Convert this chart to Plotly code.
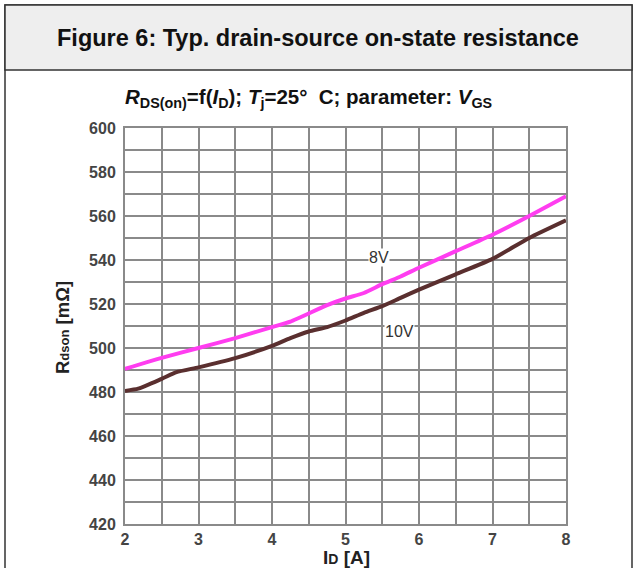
import plotly.graph_objects as go

# ---- data ----
id_8v = [2, 2.5, 3, 3.5, 4, 4.25, 4.75, 5.0, 5.25, 5.5, 5.75, 6, 6.5, 7, 7.5, 8]
r_8v = [490.5, 495.5, 500, 504.5, 509.5, 512, 519.5, 522.5, 525, 529, 532.5, 536.5, 544, 551.5, 560, 569]
id_10v = [2, 2.18, 2.5, 2.7, 3, 3.5, 4, 4.25, 4.5, 4.75, 5, 5.25, 5.5, 5.75, 6, 6.5, 7, 7.5, 8]
r_10v = [480.5, 481.5, 486, 489, 491.2, 495.4, 501, 504.5, 507.5, 509.5, 512.5, 516, 519, 522.8, 526.5, 533.5, 540.5, 550, 558]
x_ticks = [2, 3, 4, 5, 6, 7, 8]
y_ticks = [420, 440, 460, 480, 500, 520, 540, 560, 580, 600]
curve_labels = ["8V", "10V"]
label_pos = [(5.45, 541), (5.74, 507.5)]

W, H = 639, 568
L, R, T, B = 125, 566, 128, 524


def fx(px):
    return (px - L) / (R - L)


def fy(py):
    return (B - py) / (B - T)


FONT = "Liberation Sans, Arial, sans-serif"

fig = go.Figure()
fig.add_trace(go.Scatter(x=id_8v, y=r_8v, mode="lines",
                         line=dict(color="#FF3DF0", width=4, shape="spline", smoothing=0.5),
                         hoverinfo="skip", showlegend=False))
fig.add_trace(go.Scatter(x=id_10v, y=r_10v, mode="lines",
                         line=dict(color="#5A2F2F", width=4, shape="spline", smoothing=0.5),
                         hoverinfo="skip", showlegend=False))

shapes = [
    dict(type="rect", xref="paper", yref="paper", x0=fx(5), x1=fx(632), y0=fy(620), y1=fy(5),
         line=dict(color="#333333", width=1.5), fillcolor="rgba(0,0,0,0)", layer="below"),
    dict(type="rect", xref="paper", yref="paper", x0=fx(5), x1=fx(632), y0=fy(70), y1=fy(5),
         line=dict(color="#333333", width=1.5), fillcolor="#EEEEEE", layer="below"),
]

annotations = [
    dict(text="<b>Figure 6: Typ. drain-source on-state resistance</b>", xref="paper", yref="paper",
         x=fx(318), y=fy(38), showarrow=False, font=dict(family=FONT, size=23.5, color="#111111"),
         xanchor="center", yanchor="middle"),
    dict(text="<b><i>R</i><sub>DS(on)</sub>=f(<i>I</i><sub>D</sub>); <i>T</i><sub>j</sub>=25°  C; parameter: <i>V</i><sub>GS</sub></b>",
         xref="paper", yref="paper", x=fx(308), y=fy(98), showarrow=False,
         font=dict(family=FONT, size=20.5, color="#111111"), xanchor="center", yanchor="middle"),
    dict(text="<b>R<span style='font-size:13px'>dson</span> [mΩ]</b>", xref="paper", yref="paper",
         x=fx(62), y=fy(328), textangle=-90, showarrow=False,
         font=dict(family=FONT, size=18.5, color="#222222"), xanchor="center", yanchor="middle"),
    dict(text="<b>I<span style='font-size:14px'>D</span> [A]</b>", xref="paper", yref="paper",
         x=fx(346), y=fy(557), showarrow=False, font=dict(family=FONT, size=19, color="#222222"),
         xanchor="center", yanchor="middle"),
]
for txt, (lx, ly) in zip(curve_labels, label_pos):
    annotations.append(dict(text=txt, x=lx, y=ly, xref="x", yref="y", showarrow=False,
                            font=dict(family=FONT, size=16, color="#333333"),
                            bgcolor="white", borderpad=0))

fig.update_layout(
    width=W, height=H,
    margin=dict(l=L, r=W - R, t=T, b=H - B, pad=0),
    paper_bgcolor="white", plot_bgcolor="white",
    shapes=shapes, annotations=annotations,
    xaxis=dict(range=[2, 8], tickvals=x_ticks, showgrid=True, gridcolor="#8A8A8A", gridwidth=2,
               minor=dict(dtick=0.5, showgrid=True, gridcolor="#8A8A8A", gridwidth=2),
               showline=True, linecolor="#8A8A8A", linewidth=2, mirror=True, zeroline=False,
               ticks="", tickfont=dict(family=FONT, size=16, color="#444444", weight="bold"),
               fixedrange=True),
    yaxis=dict(range=[420, 600], tickvals=y_ticks, showgrid=True, gridcolor="#8A8A8A", gridwidth=2,
               minor=dict(dtick=10, showgrid=True, gridcolor="#8A8A8A", gridwidth=2),
               showline=True, linecolor="#8A8A8A", linewidth=2, mirror=True, zeroline=False,
               ticks="", ticklabelstandoff=4,
               tickfont=dict(family=FONT, size=16, color="#444444", weight="bold"),
               fixedrange=True),
)

fig.write_html("out.html", config={"displayModeBar": False},
               post_script="document.body.style.margin='0';")
